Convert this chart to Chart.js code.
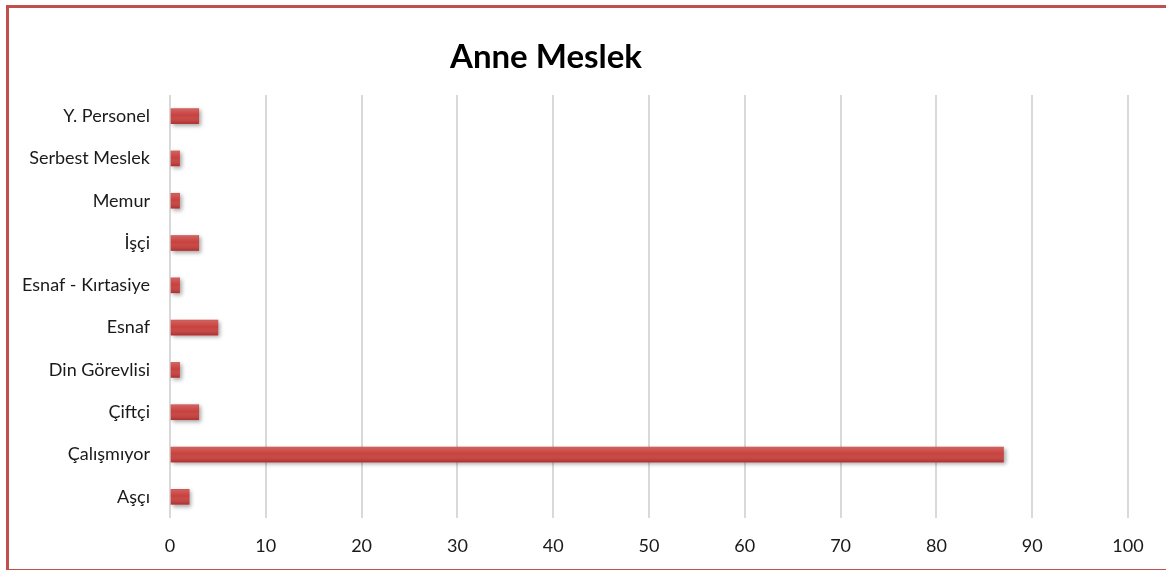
<!DOCTYPE html>
<html>
<head>
<meta charset="utf-8">
<style>
    html, body { margin: 0; padding: 0; background: #ffffff; overflow: hidden; }
    .chart--wrap { position: relative; width: 1166px; height: 570px; overflow: hidden; }
    .chart--frame { position: absolute; left: 6px; top: 5px; width: 1170px; height: 561px; border: 3px solid #c0504d; border-right: none; box-sizing: content-box; pointer-events: none; }
    canvas { position: absolute; left: 0; top: 0; }
</style>
</head>
<body>
<div class="chart--wrap">
    <canvas id="meslek" width="1166" height="570"></canvas>
    <div class="chart--frame"></div>
</div>
<script src="https://cdn.jsdelivr.net/npm/chart.js"></script>
<script>
    //chart data
    const chartTitle = 'Anne Meslek';
    const jobs = ['Y. Personel', 'Serbest Meslek', 'Memur', 'İşçi', 'Esnaf - Kırtasiye', 'Esnaf', 'Din Görevlisi', 'Çiftçi', 'Çalışmıyor', 'Aşçı'];
    const counts = [3, 1, 1, 3, 1, 5, 1, 3, 87, 2];
    const xMin = 0;
    const xMax = 100;
    const xStep = 10;

    const fontFamily = 'Lato, "Open Sans", sans-serif';

    /*title drawn a little left of centre, like the original*/
    const titlePlugin = {
        id: 'titleText',
        afterDraw(chart) {
            const ctx = chart.ctx;
            ctx.save();
            ctx.font = 'bold 33px ' + fontFamily;
            ctx.fillStyle = '#000000';
            ctx.textAlign = 'center';
            ctx.textBaseline = 'middle';
            ctx.fillText(chartTitle, 546, 57);
            ctx.restore();
        }
    };

    /*shadow + shading on the bars*/
    const barShade = {
        id: 'barShade',
        beforeDatasetsDraw(chart) {
            const ctx = chart.ctx;
            ctx.save();
            ctx.shadowColor = 'rgba(0,0,0,0.35)';
            ctx.shadowBlur = 4;
            ctx.shadowOffsetX = 2;
            ctx.shadowOffsetY = 2;
        },
        afterDatasetsDraw(chart) {
            const ctx = chart.ctx;
            ctx.restore();
            chart.getDatasetMeta(0).data.forEach(bar => {
                const p = bar.getProps(['x', 'y', 'base', 'height'], true);
                const top = p.y - p.height / 2;
                const g = ctx.createLinearGradient(0, top, 0, top + p.height);
                g.addColorStop(0, 'rgba(255,255,255,0.18)');
                g.addColorStop(0.45, 'rgba(255,255,255,0)');
                g.addColorStop(1, 'rgba(80,0,0,0.25)');
                ctx.fillStyle = g;
                ctx.fillRect(p.base, top, p.x - p.base, p.height);
            });
        }
    };

    const meslek = document.getElementById('meslek');
    new Chart(meslek, {
        type: 'bar',
        data: {
            labels: jobs,
            datasets: [{
                data: counts,
                backgroundColor: '#c8413e',
                borderWidth: 0,
                barThickness: 15
            }]
        },
        options: {
            indexAxis: 'y',
            responsive: false,
            animation: false,
            layout: { padding: { top: 95, right: 38, left: 0, bottom: 0 } },
            plugins: {
                legend: { display: false },
                tooltip: { enabled: false },
                title: { display: false }
            },
            scales: {
                x: {
                    min: xMin,
                    max: xMax,
                    ticks: {
                        stepSize: xStep,
                        color: '#1a1a1a',
                        padding: 17,
                        font: { family: fontFamily, size: 18 }
                    },
                    grid: { color: '#d9d9d9', lineWidth: 2, drawTicks: false },
                    border: { display: false },
                    afterFit(scale) { scale.height = 52; }
                },
                y: {
                    ticks: {
                        color: '#1a1a1a',
                        padding: 20,
                        font: { family: fontFamily, size: 18 }
                    },
                    grid: { display: false, drawTicks: false },
                    border: { display: false },
                    afterFit(scale) { scale.width = 170; }
                }
            }
        },
        plugins: [titlePlugin, barShade]
    });
</script>
</body>
</html>
